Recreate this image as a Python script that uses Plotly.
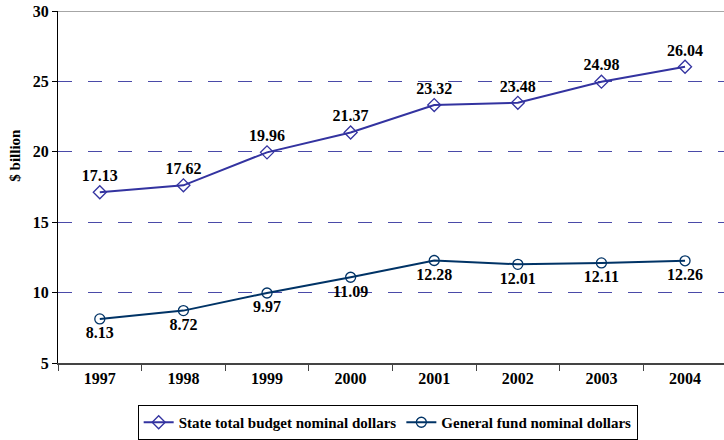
import plotly.graph_objects as go

years = ["1997", "1998", "1999", "2000", "2001", "2002", "2003", "2004"]
state_total = [17.13, 17.62, 19.96, 21.37, 23.32, 23.48, 24.98, 26.04]
general_fund = [8.13, 8.72, 9.97, 11.09, 12.28, 12.01, 12.11, 12.26]

FONT = "Liberation Serif"
STATE_COLOR = "#3333a0"
FUND_COLOR = "#003366"

fig = go.Figure()

fig.add_trace(go.Scatter(
    x=years, y=state_total,
    name="State total budget nominal dollars",
    mode="lines+markers+text",
    line=dict(color=STATE_COLOR, width=2),
    marker=dict(symbol="diamond-open", size=10, color=STATE_COLOR, line=dict(width=1.3)),
    text=[f"{v:.2f}" for v in state_total],
    textposition="top center",
    textfont=dict(family=FONT, size=16, color="black", weight="bold"),
    cliponaxis=False,
))

fig.add_trace(go.Scatter(
    x=years, y=general_fund,
    name="General fund nominal dollars",
    mode="lines+markers+text",
    line=dict(color=FUND_COLOR, width=2),
    marker=dict(symbol="circle-open", size=10, color=FUND_COLOR, line=dict(width=1.3)),
    text=[f"{v:.2f}" for v in general_fund],
    textposition="bottom center",
    textfont=dict(family=FONT, size=16, color="black", weight="bold"),
    cliponaxis=False,
))

# solid top border at the 30 line
fig.add_shape(type="line", xref="paper", yref="y", x0=0, x1=1, y0=30, y1=30,
              line=dict(color="#888888", width=1.5))

fig.add_annotation(
    text="$ billion", textangle=-90, showarrow=False,
    xref="paper", yref="paper", x=-0.079, y=0.59,
    font=dict(family=FONT, size=15, color="black", weight="bold"),
)

fig.update_layout(
    width=724, height=440,
    margin=dict(l=58, r=0, t=11, b=75),
    paper_bgcolor="white", plot_bgcolor="white",
    font=dict(family=FONT, size=15, color="black"),
    showlegend=True,
    legend=dict(
        orientation="h",
        x=0.495, xanchor="center",
        y=-0.17, yanchor="middle",
        bordercolor="black", borderwidth=1,
        font=dict(family=FONT, size=15, color="black", weight="bold"),
        itemwidth=30,
    ),
)

fig.update_xaxes(
    type="category",
    range=[-0.5, 7.466],
    tickson="boundaries",
    ticks="outside", ticklen=6, tickcolor="#444444",
    showline=True, linecolor="#444444", linewidth=2,
    showgrid=False,
    tickfont=dict(family=FONT, size=16, color="black", weight="bold"),
)

fig.update_yaxes(
    range=[5, 30], dtick=5,
    ticks="outside", ticklen=5, tickcolor="black",
    showline=True, linecolor="black", linewidth=1,
    showgrid=True, gridcolor="#4a4aa8", gridwidth=1, griddash="14px,16px",
    zeroline=False,
    tickfont=dict(family=FONT, size=16, color="black", weight="bold"),
)

fig.write_html("out.html")
